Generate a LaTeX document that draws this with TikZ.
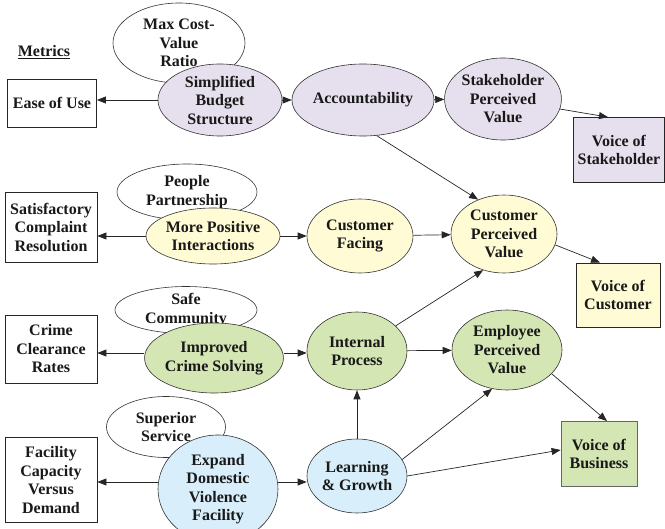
\documentclass[tikz,border=0pt]{standalone}
\usepackage{fontspec}
\setmainfont{Liberation Serif}
\usetikzlibrary{shapes.geometric,arrows.meta}
\definecolor{lilac}{RGB}{230,224,238}
\definecolor{cream}{RGB}{255,251,212}
\definecolor{sage}{RGB}{212,230,180}
\definecolor{sky}{RGB}{216,238,250}

\begin{document}
\begin{tikzpicture}[x=1pt,y=-1pt,
  txt/.style={font=\fontsize{16}{18.5}\selectfont\bfseries,align=center,inner sep=0pt,text=black!90},
  oval/.style={txt,ellipse,draw=black!80,line width=0.6pt},
  metric/.style={txt,rectangle,draw=black!85,line width=0.8pt},
  link/.style={line width=0.7pt,draw=black!85,-{Triangle[length=9pt,width=7pt]}}]
  \useasboundingbox (0,0) rectangle (665,529);
  % perspective ovals
  \node[oval,fill=white,minimum width=132pt,minimum height=80pt] (maxcost) at (179,43) {Max Cost-\\Value\\Ratio};
  \node[oval,fill=lilac,minimum width=124pt,minimum height=72pt] (budget) at (220,100) {Simplified\\Budget\\Structure};
  \node[oval,fill=lilac,minimum width=114pt,minimum height=72pt] (acct) at (363,100) {Accountability};
  \node[oval,fill=lilac,minimum width=112pt,minimum height=82pt] (stake) at (503,99) {Stakeholder\\Perceived\\Value};
  \node[oval,fill=white,minimum width=140pt,minimum height=56pt] (people) at (187,192) {People\\Partnership};
  \node[oval,fill=cream,minimum width=134pt,minimum height=56pt] (positive) at (213,236) {More Positive\\Interactions};
  \node[oval,fill=cream,minimum width=106pt,minimum height=74pt] (facing) at (360,236) {Customer\\Facing};
  \node[oval,fill=cream,minimum width=106pt,minimum height=78pt] (cpv) at (504,234) {Customer\\Perceived\\Value};
  \node[oval,fill=white,minimum width=142pt,minimum height=46pt] (safe) at (186,310) {Safe\\Community};
  \node[oval,fill=sage,minimum width=122pt,minimum height=70pt] (solving) at (214,358) {Improved\\Crime Solving};
  \node[oval,fill=sage,minimum width=100pt,minimum height=78pt] (internal) at (357,351) {Internal\\Process};
  \node[oval,fill=sage,minimum width=110pt,minimum height=80pt] (epv) at (507,350) {Employee\\Perceived\\Value};
  \node[oval,fill=white,minimum width=119pt,minimum height=61pt] (superior) at (166,427) {Superior\\Service};
  \node[oval,fill=sky,minimum width=120pt,minimum height=108pt] (expand) at (218,489) {Expand\\Domestic\\Violence\\Facility};
  \node[oval,fill=sky,minimum width=100pt,minimum height=74pt] (learning) at (357,476) {Learning\\\& Growth};
  % metrics and voices
  \node[txt] (metrics) at (44,52) {\underline{Metrics}};
  \node[metric,fill=white,minimum width=89pt,minimum height=48pt] (ease) at (52,103) {Ease of Use};
  \node[metric,fill=white,minimum width=92pt,minimum height=70pt] (complaint) at (51,227) {Satisfactory\\Complaint\\Resolution};
  \node[metric,fill=white,minimum width=92pt,minimum height=68pt] (clearance) at (51,349) {Crime\\Clearance\\Rates};
  \node[metric,fill=white,minimum width=92pt,minimum height=85pt] (capacity) at (51,480) {Facility\\Capacity\\Versus\\Demand};
  \node[metric,fill=lilac,minimum width=91pt,minimum height=65pt] (vstake) at (619,150) {Voice of\\Stakeholder};
  \node[metric,fill=cream,minimum width=84pt,minimum height=64pt] (vcust) at (618,295) {Voice of\\Customer};
  \node[metric,fill=sage,draw=black!60,minimum width=76pt,minimum height=65pt] (vbus) at (599,454) {Voice of\\Business};
  % links
  \draw[link] (budget.west) -- (budget.west -| ease.east);
  \draw[link] (positive.west) -- (positive.west -| complaint.east);
  \draw[link] ([yshift=5pt]solving.west) -- ([yshift=5pt]solving.west -| clearance.east);
  \draw[link] ([yshift=7pt]expand.west) -- ([yshift=7pt]expand.west -| capacity.east);
  \draw[link] (budget) -- (acct);
  \draw[link] (acct) -- (stake);
  \draw[link] (positive) -- (facing);
  \draw[link] (facing) -- (cpv);
  \draw[link] ([yshift=5pt]solving.east) -- ([yshift=5pt]solving.east -| internal.west);
  \draw[link] (internal) -- (epv);
  \draw[link] ([yshift=7pt]expand.east) -- ([yshift=7pt]expand.east -| learning.west);
  \draw[link] (acct.291) -- (cpv.127);
  \draw[link] (internal.33) -- (cpv.240);
  \draw[link] (learning) -- (internal);
  \draw[link] (learning.20) -- (epv.249);
  \draw[link] (learning.east) -- ([yshift=4pt]vbus.west);
  \draw[link] (stake.-10) -- ([xshift=-11pt]vstake.north);
  \draw[link] (cpv.-12) -- ([xshift=-18pt]vcust.north);
  \draw[link] (epv.-28) -- ([xshift=8pt]vbus.north);
\end{tikzpicture}
\end{document}
